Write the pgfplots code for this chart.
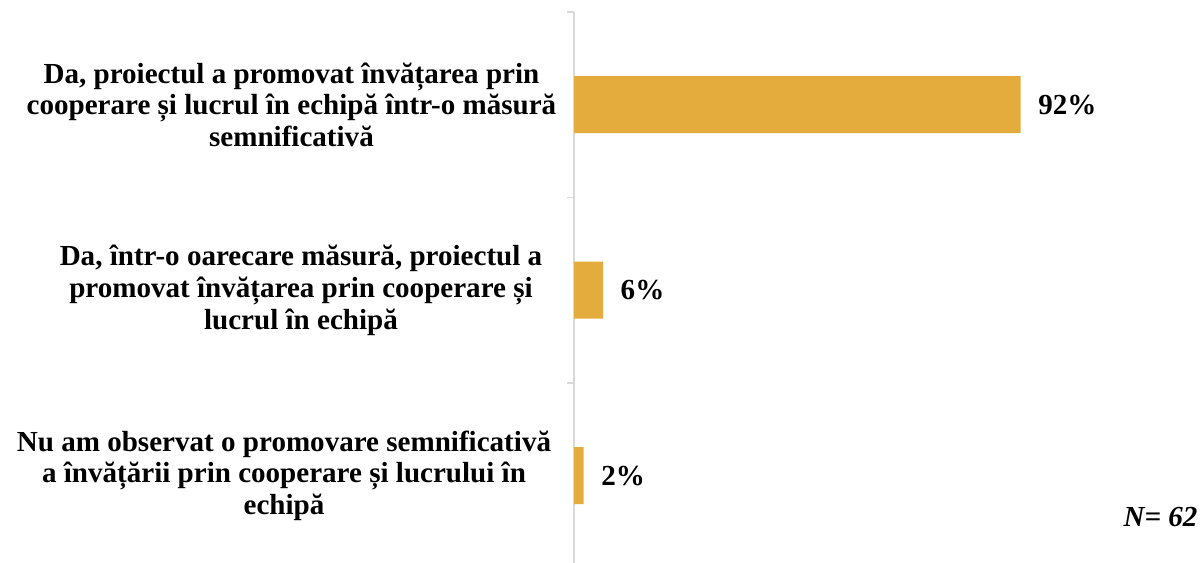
\documentclass[border=0pt]{standalone}
\usepackage{fontspec}
\setmainfont{Liberation Serif}
\usepackage{pgfplots}
\pgfplotsset{compat=1.18}
\definecolor{barcol}{HTML}{E3AC3D}
\definecolor{axcol}{HTML}{D9D9D9}
\begin{document}
\begin{tikzpicture}
\path[use as bounding box] (0,0) rectangle (901.5pt,422.25pt);
\begin{axis}[
  at={(430.5pt,-4.125pt)}, anchor=south west,
  scale only axis, width=364.125pt, height=417.375pt,
  xmin=0, xmax=100, ymin=-0.5, ymax=2.5,
  axis x line=none, axis y line*=left,
  y axis line style={draw=axcol, line width=1.3pt, -},
  ytick={-0.5,0.5,1.5,2.5}, yticklabels={},
  major tick length=5.25pt, tick align=outside,
  ytick style={draw=axcol, line width=1.3pt},
  clip=false,
  /pgf/number format/assume math mode=true,
  xbar, bar width=42.75pt,
  nodes near coords={\pgfmathprintnumber{\pgfplotspointmeta}\%},
  nodes near coords style={anchor=west, inner sep=0pt, xshift=13pt,
    font=\fontsize{21.8pt}{23.8pt}\selectfont\bfseries, text=black},
]
\addplot[fill=barcol, draw=none] coordinates {(92,2) (6,1) (2,0)};
\begin{scope}[every node/.style={align=center, font=\fontsize{21.8pt}{23.8pt}\selectfont\bfseries}]
\node[xshift=-211.9pt] at (axis cs:0,2) {Da, proiectul a promovat învățarea prin\\cooperare și lucrul în echipă într-o măsură\\semnificativă};
\node[xshift=-204.75pt] at (axis cs:0,1) {Da, într-o oarecare măsură, proiectul a\\promovat învățarea prin cooperare și\\lucrul în echipă};
\node[xshift=-217.5pt] at (axis cs:0,0) {Nu am observat o promovare semnificativă\\a învățării prin cooperare și lucrului în\\echipă};
\node at (axis cs:120.8,-0.224) {\itshape N= 62};
\end{scope}
\end{axis}
\end{tikzpicture}
\end{document}
